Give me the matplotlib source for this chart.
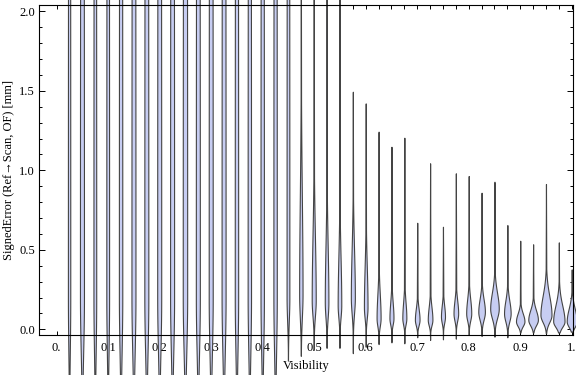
import numpy as np
import matplotlib
matplotlib.use("Agg")
import matplotlib.pyplot as plt
from matplotlib.ticker import FixedLocator, MultipleLocator

plt.rcParams['font.family'] = ['Liberation Serif', 'DejaVu Serif']

# ---- data ----
visibility = [0.025, 0.05, 0.075, 0.1, 0.125, 0.15, 0.175, 0.2, 0.225, 0.25,
              0.275, 0.3, 0.325, 0.35, 0.375, 0.4, 0.425, 0.45, 0.475, 0.5,
              0.525, 0.55, 0.575, 0.6, 0.625, 0.65, 0.675, 0.7, 0.725, 0.75,
              0.775, 0.8, 0.825, 0.85, 0.875, 0.9, 0.925, 0.95, 0.975, 1.0]

err_min = [-0.6, -0.6, -0.6, -0.6, -0.6, -0.6, -0.6, -0.6, -0.6, -0.6,
           -0.6, -0.6, -0.6, -0.6, -0.6, -0.6, -0.32, -0.2, -0.17, -0.13,
           -0.12, -0.12, -0.15, -0.11, -0.093, -0.082, -0.088, -0.05, -0.067, -0.063,
           -0.059, -0.036, -0.042, -0.046, -0.05, -0.02, -0.02, -0.024, -0.02, -0.015]

err_max = [2.6, 2.6, 2.6, 2.6, 2.6, 2.6, 2.6, 2.6, 2.6, 2.6,
           2.6, 2.6, 2.6, 2.6, 2.6, 2.6, 2.6, 2.6, 2.6, 2.6,
           2.6, 2.6, 1.494, 1.421, 1.243, 1.148, 1.205, 0.670, 1.044, 0.645,
           0.981, 0.964, 0.859, 0.928, 0.656, 0.557, 0.535, 0.914, 0.547, 0.377]

err_mode = [0.2, 0.2, 0.2, 0.2, 0.2, 0.2, 0.2, 0.2, 0.2, 0.2,
            0.2, 0.2, 0.2, 0.2, 0.2, 0.2, 0.2, 0.2, 0.22, 0.18,
            0.17, 0.15, 0.2, 0.14, 0.07, 0.07, 0.07, 0.06, 0.06, 0.08,
            0.1, 0.1, 0.11, 0.13, 0.1, 0.05, 0.06, 0.09, 0.05, 0.05]

spread_low = [0.35, 0.35, 0.35, 0.35, 0.35, 0.35, 0.35, 0.35, 0.35, 0.35,
              0.35, 0.35, 0.35, 0.35, 0.35, 0.35, 0.35, 0.15, 0.15, 0.1,
              0.1, 0.08, 0.1, 0.07, 0.05, 0.04, 0.04, 0.035, 0.035, 0.04,
              0.045, 0.045, 0.05, 0.06, 0.05, 0.03, 0.035, 0.045, 0.035, 0.035]

spread_high = [5.0, 5.0, 5.0, 5.0, 5.0, 5.0, 5.0, 5.0, 5.0, 5.0,
               5.0, 5.0, 5.0, 5.0, 5.0, 5.0, 5.0, 5.0, 0.6, 0.4,
               0.35, 0.3, 0.3, 0.25, 0.15, 0.1, 0.1, 0.07, 0.08, 0.07,
               0.08, 0.09, 0.08, 0.1, 0.08, 0.05, 0.06, 0.12, 0.1, 0.08]

peak_density = [0.0023, 0.0039, 0.0027, 0.0027, 0.0033, 0.0039, 0.0039, 0.0039, 0.0039, 0.0043,
                0.0039, 0.0039, 0.0039, 0.0033, 0.0033, 0.0033, 0.0033, 0.0027, 0.0033, 0.0039,
                0.0035, 0.0035, 0.0039, 0.0035, 0.0039, 0.0039, 0.0039, 0.0045, 0.0045, 0.0039,
                0.0045, 0.0049, 0.0064, 0.0083, 0.0064, 0.0082, 0.0093, 0.0107, 0.011, 0.0097]

x_ticks = [0.0, 0.1, 0.2, 0.3, 0.4, 0.5, 0.6, 0.7, 0.8, 0.9, 1.0]
x_tick_labels = ["0.", "0.1", "0.2", "0.3", "0.4", "0.5", "0.6", "0.7", "0.8", "0.9", "1."]
y_ticks = [0.0, 0.5, 1.0, 1.5, 2.0]
y_tick_labels = ["0.0", "0.5", "1.0", "1.5", "2.0"]

# ---- style ----
FILL = '#c7cdf2'
EDGE = '#444444'
TAIL = 0.0009

fig = plt.figure(figsize=(5.76, 3.75), dpi=100)
ax = fig.add_axes([39.3 / 576, 1 - 335 / 375, (572.7 - 39.3) / 576, (335 - 4.7) / 375])
ax.set_xlim(-0.0338, 1.0019)
ax.set_ylim(-0.0358, 2.0415)


def half_width(y, lo, hi, mode, sl, sh, wpk):
    g = np.where(y < mode, np.exp(-0.5 * ((y - mode) / sl) ** 2),
                 np.exp(-0.5 * ((y - mode) / sh) ** 2))
    tail = np.where(y < mode, TAIL * (y - lo) / (mode - lo), TAIL * (hi - y) / (hi - mode))
    return np.maximum(wpk * g, np.clip(tail, 0, None))


for xv, lo, hi, md, sl, sh, wp in zip(visibility, err_min, err_max, err_mode,
                                     spread_low, spread_high, peak_density):
    y = np.linspace(lo, hi, 800)
    w = half_width(y, lo, hi, md, sl, sh, wp)
    ax.fill_betweenx(y, xv - w, xv + w, facecolor=FILL, edgecolor=EDGE,
                     linewidth=0.8, clip_on=False, zorder=3)

for s in ax.spines.values():
    s.set_linewidth(0.8)
    s.set_zorder(4)

ax.xaxis.set_major_locator(FixedLocator(x_ticks))
ax.set_xticklabels(x_tick_labels)
ax.xaxis.set_minor_locator(FixedLocator(visibility))
ax.yaxis.set_major_locator(FixedLocator(y_ticks))
ax.set_yticklabels(y_tick_labels)
ax.yaxis.set_minor_locator(MultipleLocator(0.1))

ax.tick_params(axis='both', which='both', direction='in', top=True, right=True,
               width=0.7, color='black', labelsize=9, labelcolor='black')
ax.tick_params(axis='x', which='major', length=3, pad=5)
ax.tick_params(axis='x', which='minor', length=3)
ax.tick_params(axis='y', which='major', length=4.5, pad=3)
ax.tick_params(axis='y', which='minor', length=2.3)

fig.text(9 / 576, 1 - 170 / 375, "SignedError (Ref\u2192Scan, OF) [mm]", rotation=90,
         ha='center', va='center', fontsize=9)
fig.text(306 / 576, 1 - 366 / 375, "Visibility", ha='center', va='center', fontsize=9)

fig.savefig("out.png", dpi=100)
